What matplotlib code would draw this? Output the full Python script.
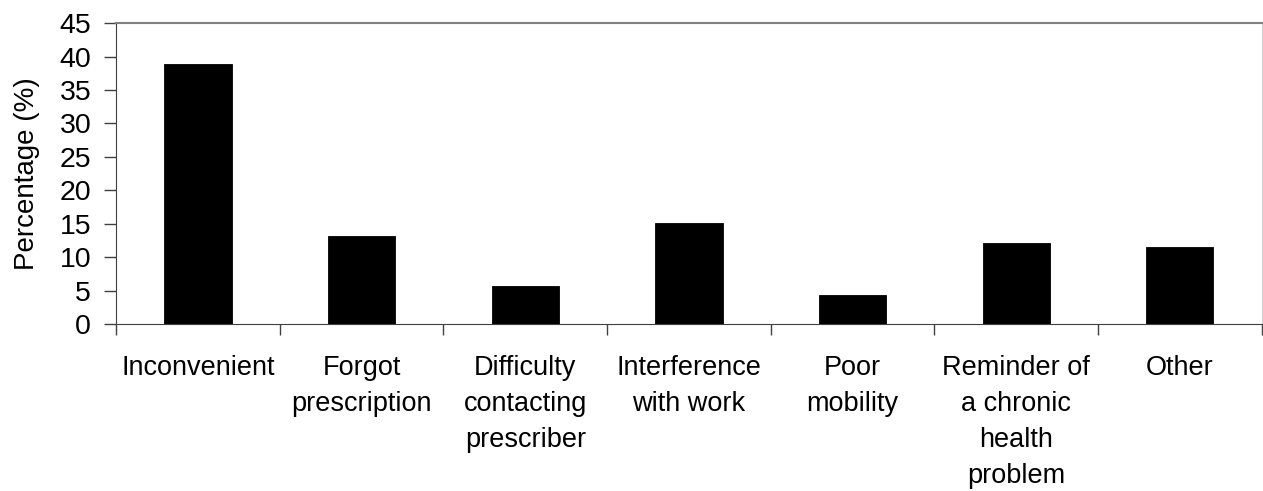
import matplotlib
matplotlib.use("Agg")
import matplotlib.pyplot as plt
import numpy as np

# reasons for not collecting prescription
categories = ["Inconvenient", "Forgot\nprescription", "Difficulty\ncontacting\nprescriber",
              "Interference\nwith work", "Poor\nmobility",
              "Reminder of\na chronic\nhealth\nproblem", "Other"]
percent = [38.9, 13.1, 5.7, 15.1, 4.3, 12.1, 11.5]
yticks = [0, 5, 10, 15, 20, 25, 30, 35, 40, 45]

plt.rcParams['font.family'] = ['Liberation Sans', 'DejaVu Sans']

fig = plt.figure(figsize=(12.63, 4.91), dpi=100)
ax = fig.add_axes([0.092, 0.34, 0.907, 0.613])

x = np.arange(len(categories))
ax.bar(x, percent, width=0.41, color='black', edgecolor='black', linewidth=0.6)

ax.set_xlim(-0.5, len(categories) - 0.5)
ax.set_ylim(0, 45)
ax.set_yticks(yticks)
ax.tick_params(axis='y', labelsize=20.5, length=9, width=1, color='#404040', pad=9)

# labels centred on bars, tick marks between categories
ax.set_xticks(x)
ax.set_xticklabels(categories, fontsize=19.5, linespacing=1.5)
ax.tick_params(axis='x', which='major', length=0, pad=22)
ax.set_xticks(np.arange(-0.5, len(categories)), minor=True)
ax.tick_params(axis='x', which='minor', length=8, width=1, color='#404040')

ax.set_ylabel("Percentage (%)", fontsize=20, labelpad=14)

ax.spines['left'].set_color('#404040')
ax.spines['bottom'].set_color('#404040')
ax.spines['top'].set_color('#808080')
ax.spines['top'].set_linewidth(1.5)
ax.spines['right'].set_color('#d0d0d0')

fig.savefig("out.png", dpi=100)
